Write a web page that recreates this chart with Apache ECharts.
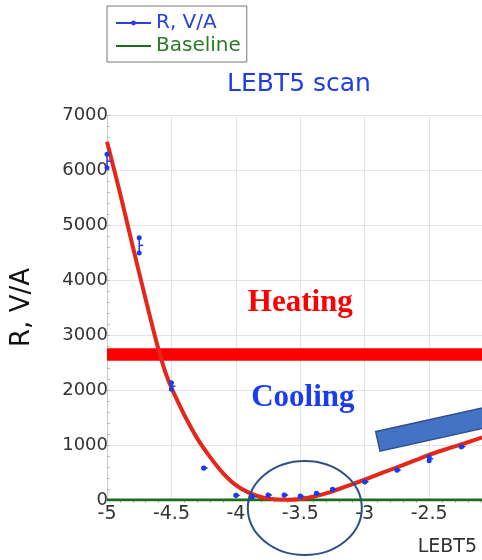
<!DOCTYPE html>
<html>
<head>
<meta charset="utf-8">
<script src="https://cdn.jsdelivr.net/npm/echarts@6/dist/echarts.min.js"></script>
<style>html,body{margin:0;padding:0;background:#fff}#c{width:482px;height:560px}</style>
</head>
<body>
<div id="c"></div>
<script>
// ---- data ----
const rX    = [-5, -4.75, -4.5, -4.25, -4, -3.875, -3.75, -3.625, -3.5, -3.375, -3.25, -3, -2.75, -2.5, -2.25];
const rMean = [6160, 4630, 2070, 580, 85, 60, 90, 90, 70, 120, 195, 330, 545, 750, 970];
const rLow  = [6040, 4490, 2013, 580, 85, 60, 90, 90, 70, 120, 195, 330, 545, 715, 970];
const rHigh = [6285, 4770, 2133, 580, 85, 60, 90, 90, 70, 120, 195, 330, 545, 780, 970];

const fitX = [-5, -4.9, -4.8, -4.7, -4.6, -4.55, -4.5, -4.45, -4.4, -4.3, -4.2, -4.1, -4, -3.9, -3.8, -3.7, -3.6, -3.5, -3.4, -3.3, -3.2, -3.1, -3, -2.9, -2.8, -2.7, -2.6, -2.5, -2.4, -2.3, -2.2, -2.09];
const fitY = [6515, 5590, 4610, 3650, 2730, 2345, 2040, 1790, 1545, 1120, 780, 490, 270, 135, 50, 12, 5, 20, 60, 120, 200, 285, 370, 460, 550, 640, 730, 820, 900, 975, 1050, 1140];

const baseX = [-5, -2.09];
const baseY = [0, 0];

const xMin = -5, xMax = -2.09, xStep = 0.5;
const yMin = 0, yMax = 7000, yStep = 1000;

// annotation anchors (data coordinates)
const band = [2530, 2760];
const heatingAt = [-3.5, 3580];
const coolingAt = [-3.48, 1855];
const ellipseAt = [-3.465, -145];
const arrowAt = [-2.915, 1242];

const BLUE = '#1c3ce6';
const chart = echarts.init(document.getElementById('c'), null, {renderer: 'canvas'});
const FONT = 'DejaVu Sans';

const option = {
  animation: false,
  backgroundColor: '#fff',
  title: {
    text: 'LEBT5 scan', left: 227, top: 72, padding: 0,
    textStyle: {color: '#1e3de6', fontSize: 25, fontWeight: 'normal', fontFamily: FONT}
  },
  legend: {
    left: 107, top: 6, orient: 'vertical',
    padding: [7, 6, 6, 8], itemGap: 3, itemWidth: 35, itemHeight: 6,
    borderColor: '#777', borderWidth: 1,
    textStyle: {fontFamily: FONT, fontSize: 20},
    data: [
      {name: 'R, V/A', textStyle: {color: '#2a40e0'}},
      {name: 'Baseline', textStyle: {color: '#2a7a2a'},
       itemStyle: {color: 'rgba(0,0,0,0)', borderColor: 'rgba(0,0,0,0)', borderWidth: 0}}
    ]
  },
  grid: {left: 107, top: 115, right: 0, bottom: 60, containLabel: false},
  xAxis: {
    type: 'value', min: xMin, max: xMax, interval: xStep,
    name: 'LEBT5', nameLocation: 'end', nameGap: -5,
    nameTextStyle: {fontFamily: FONT, fontSize: 19, color: '#333', align: 'right', verticalAlign: 'top', padding: [38, 0, 0, 0]},
    axisLine: {show: true, lineStyle: {color: '#ccc'}},
    axisTick: {show: false},
    minorTick: {show: true, splitNumber: 5, length: 3, lineStyle: {color: '#bbb'}},
    axisLabel: {fontFamily: FONT, fontSize: 19, color: '#333', margin: 5, showMaxLabel: false,
                formatter: v => String(v)},
    splitLine: {show: true, lineStyle: {color: '#e4e4e4', width: 1}}
  },
  yAxis: {
    type: 'value', min: yMin, max: yMax, interval: yStep,
    name: 'R, V/A', nameLocation: 'middle', nameGap: 72,
    nameTextStyle: {fontFamily: FONT, fontSize: 26, color: '#111'},
    axisLine: {show: true, lineStyle: {color: '#ccc'}},
    axisTick: {show: true, inside: true, length: 3, lineStyle: {color: '#bbb'}},
    minorTick: {show: true, splitNumber: 5, length: 3, lineStyle: {color: '#bbb'}},
    axisLabel: {fontFamily: FONT, fontSize: 18, color: '#333', margin: -1,
                formatter: v => String(v)},
    splitLine: {show: true, lineStyle: {color: '#e4e4e4', width: 1}}
  },
  series: [
    {
      name: 'R, V/A', type: 'line', data: [], symbol: 'circle',
      lineStyle: {color: '#2a40e0', width: 1.5}, itemStyle: {color: '#2a40e0'}
    },
    {
      name: 'Baseline', type: 'line', symbol: 'none',
      data: baseX.map((x, i) => [x, baseY[i]]),
      lineStyle: {color: '#1d6b1d', width: 3}, itemStyle: {color: '#1d6b1d'}, z: 3
    },
    {
      name: 'fit', type: 'line', symbol: 'none', smooth: 0.3,
      data: fitX.map((x, i) => [x, fitY[i]]),
      lineStyle: {color: '#e4261b', width: 4}, itemStyle: {color: '#e4261b'}, z: 4,
      markArea: {
        silent: true,
        itemStyle: {color: '#ff0000', opacity: 1},
        data: [[{yAxis: band[0]}, {yAxis: band[1]}]]
      }
    },
    {
      name: 'points', type: 'custom', z: 5,
      data: rX.map((x, i) => [x, rMean[i], rLow[i], rHigh[i]]),
      encode: {x: 0, y: 1},
      renderItem: function (params, api) {
        const x = api.value(0), m = api.value(1), lo = api.value(2), hi = api.value(3);
        const pm = api.coord([x, m]), pl = api.coord([x, lo]), ph = api.coord([x, hi]);
        const st = {stroke: BLUE, lineWidth: 1.5};
        const ch = [];
        if (hi > lo) {
          ch.push({type: 'line', shape: {x1: pl[0], y1: pl[1], x2: ph[0], y2: ph[1]}, style: st});
          ch.push({type: 'circle', shape: {cx: pl[0], cy: pl[1], r: 2.5}, style: {fill: BLUE}});
          ch.push({type: 'circle', shape: {cx: ph[0], cy: ph[1], r: 2.5}, style: {fill: BLUE}});
          ch.push({type: 'line', shape: {x1: pm[0], y1: pm[1], x2: pm[0] + 4, y2: pm[1]}, style: st});
        } else {
          ch.push({type: 'circle', shape: {cx: pm[0], cy: pm[1], r: 2.6}, style: {fill: BLUE}});
          ch.push({type: 'polygon', shape: {points: [[pm[0], pm[1] - 2.6], [pm[0] + 4.5, pm[1]], [pm[0], pm[1] + 2.6]]}, style: {fill: BLUE}});
        }
        return {type: 'group', children: ch};
      }
    }
  ]
};
chart.setOption(option);

function px(p) { return chart.convertToPixel({gridIndex: 0}, p); }
const h = px(heatingAt), c = px(coolingAt), e = px(ellipseAt), a = px(arrowAt);
const th = 12.6 * Math.PI / 180, ux = Math.cos(th), uy = -Math.sin(th), nx = Math.sin(th), ny = Math.cos(th);
const W = 20, L = 140;
chart.setOption({
  graphic: [
    {type: 'text', x: h[0], y: h[1], z: 100,
     style: {text: 'Heating', fill: '#ff0000', font: 'bold 31px "Liberation Serif"', textAlign: 'center', textVerticalAlign: 'middle'}},
    {type: 'text', x: c[0], y: c[1], z: 100,
     style: {text: 'Cooling', fill: '#1a3cf0', font: 'bold 31px "Liberation Serif"', textAlign: 'center', textVerticalAlign: 'middle'}},
    {type: 'ellipse', z: 100, shape: {cx: e[0], cy: e[1], rx: 57, ry: 47},
     style: {fill: 'none', stroke: '#2f4f8a', lineWidth: 2}},
    {type: 'polygon', z: 100,
     shape: {points: [[a[0], a[1]], [a[0] + W * nx, a[1] + W * ny], [a[0] + W * nx + L * ux, a[1] + W * ny + L * uy], [a[0] + L * ux, a[1] + L * uy]]},
     style: {fill: '#4472c4', stroke: '#2f528f', lineWidth: 1.5}}
  ]
});
</script>
</body>
</html>
